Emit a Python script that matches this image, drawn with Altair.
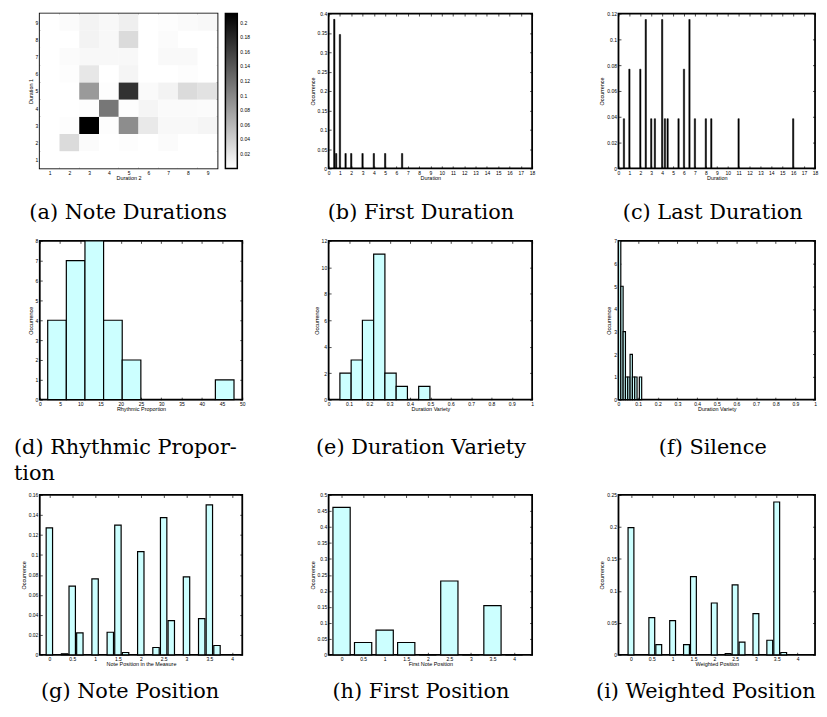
import altair as alt
import pandas as pd

# ---------------- data ----------------
# (a) Note Durations: row i -> Duration 1 = i+1 ; columns -> Duration 2 = 1..9
heat_rows = [
    [0, 0, 0, 0, 0, 0, 0, 0, 0],
    [0, 0.03, 0.003, 0, 0.002, 0, 0.003, 0, 0],
    [0, 0.002, 0.2126, 0.002, 0.095, 0.018, 0.006, 0.006, 0.008],
    [0, 0, 0.002, 0.113, 0.002, 0.008, 0.004, 0.004, 0.003],
    [0, 0, 0.084, 0.002, 0.172, 0.004, 0.01, 0.03, 0.024],
    [0, 0.002, 0.02, 0, 0.008, 0, 0, 0.002, 0],
    [0, 0.003, 0.006, 0.006, 0.006, 0, 0.005, 0.005, 0],
    [0, 0, 0.01, 0.006, 0.03, 0, 0.003, 0, 0],
    [0, 0.003, 0.01, 0.006, 0.013, 0, 0.002, 0.004, 0.006],
]
heat_max = 0.2126
colorbar_ticks = [0.02, 0.04, 0.06, 0.08, 0.1, 0.12, 0.14, 0.16, 0.18, 0.2]
grid_ticks = [1, 2, 3, 4, 5, 6, 7, 8, 9]

# (b) First Duration
first_dur = [0.5, 0.667, 1.0, 1.5, 2.0, 3.0, 4.0, 5.0, 6.5]
first_dur_occ = [0.385, 0.0385, 0.346, 0.0385, 0.0385, 0.0385, 0.0385, 0.0385, 0.0385]
# (c) Last Duration
last_dur = [0.5, 1, 2, 2.5, 3, 3.333, 4, 4.25, 4.5, 5.5, 6, 6.5, 7, 8, 8.5, 11, 16]
last_dur_occ = [0.0385, 0.0769, 0.0769, 0.1154, 0.0385, 0.0385, 0.1154, 0.0385, 0.0385,
                0.0385, 0.0769, 0.1154, 0.0385, 0.0385, 0.0385, 0.0385, 0.0385]
dur_ticks = list(range(0, 19))
occ_ticks_b = [0, 0.05, 0.1, 0.15, 0.2, 0.25, 0.3, 0.35, 0.4]
occ_ticks_c = [0, 0.02, 0.04, 0.06, 0.08, 0.1, 0.12]

# (d) Rhythmic Proportion histogram
rhythm_edges = [1.96, 6.56, 11.16, 15.76, 20.36, 24.96, 29.56, 34.16, 38.76, 43.36, 47.96]
rhythm_counts = [4, 7, 8, 4, 2, 0, 0, 0, 0, 1]
rhythm_xticks = [0, 5, 10, 15, 20, 25, 30, 35, 40, 45, 50]
rhythm_yticks = [0, 1, 2, 3, 4, 5, 6, 7, 8]

# (e) Duration Variety histogram
variety_edges = [0.0554, 0.1107, 0.166, 0.2213, 0.2766, 0.3319, 0.3872, 0.4425, 0.4978]
variety_counts = [2, 3, 6, 11, 2, 1, 0, 1]
unit_ticks = [0, 0.1, 0.2, 0.3, 0.4, 0.5, 0.6, 0.7, 0.8, 0.9, 1]
variety_yticks = [0, 2, 4, 6, 8, 10, 12]

# (f) Silence histogram
silence_edges = [0, 0.0118, 0.0236, 0.0354, 0.0472, 0.059, 0.0708, 0.0826, 0.0944, 0.1062, 0.118]
silence_counts = [7, 5, 3, 1, 1, 2, 1, 1, 0, 1]
silence_yticks = [0, 1, 2, 3, 4, 5, 6, 7]

# (g) Note Position
note_pos = [0, 0.333, 0.5, 0.667, 1, 1.333, 1.5, 1.667, 2, 2.333, 2.5, 2.667, 3, 3.333, 3.5, 3.667]
note_occ = [0.127, 0.001, 0.0687, 0.0219, 0.076, 0.0226, 0.1298, 0.0023, 0.1032, 0.0073,
            0.1374, 0.0342, 0.078, 0.0362, 0.150, 0.0093]
note_yticks = [0, 0.02, 0.04, 0.06, 0.08, 0.1, 0.12, 0.14, 0.16]
# (h) First Position
first_pos = [0, 0.5, 1, 1.5, 2, 2.5, 3, 3.5, 4]
first_pos_occ = [0.4615, 0.0385, 0.0769, 0.0385, 0, 0.2308, 0, 0.1538, 0]
first_pos_yticks = [0, 0.05, 0.1, 0.15, 0.2, 0.25, 0.3, 0.35, 0.4, 0.45, 0.5]
# (i) Weighted Position
weighted_pos = [0, 0.5, 0.667, 1, 1.333, 1.5, 2, 2.333, 2.5, 2.667, 3, 3.333, 3.5, 3.667]
weighted_occ = [0.199, 0.058, 0.016, 0.0534, 0.016, 0.1224, 0.081, 0.002, 0.1094, 0.0197,
                0.0643, 0.0228, 0.239, 0.0036]
weighted_yticks = [0, 0.05, 0.1, 0.15, 0.2, 0.25]
pos_ticks = [0, 0.5, 1, 1.5, 2, 2.5, 3, 3.5, 4]

captions = ["(a) Note Durations", "(b) First Duration", "(c) Last Duration",
            "(d) Rhythmic Propor-\ntion", "(e) Duration Variety", "(f) Silence",
            "(g) Note Position", "(h) First Position", "(i) Weighted Position"]

# ---------------- styling ----------------
CYAN = "#ccffff"
SANS = "Liberation Sans"
LABEL_EXPR = "format(datum.value, '.2~f')"


def main_axis_x(vals, title):
    return alt.Axis(orient="bottom", values=vals, title=title, ticks=False, tickSize=0,
                    domain=False, grid=False, labelPadding=2, titlePadding=0,
                    labelExpr=LABEL_EXPR, labelFlush=False, labelOverlap=False, minExtent=0)


def main_axis_y(vals, title):
    return alt.Axis(orient="left", values=vals, title=title, ticks=False, tickSize=0,
                    domain=False, grid=False, labelPadding=2, titlePadding=2,
                    labelExpr=LABEL_EXPR, labelOverlap=False, minExtent=0)


def panel(base, xf, yf, xdom, ydom, xvals, yvals, xtitle, ytitle, w, h, tick_df):
    sx = alt.Scale(domain=xdom, nice=False, zero=False)
    sy = alt.Scale(domain=ydom, nice=False, zero=False)
    main = base.encode(
        x=alt.X(f"{xf}:Q", scale=sx, axis=main_axis_x(xvals, xtitle)),
        y=alt.Y(f"{yf}:Q", scale=sy, axis=main_axis_y(yvals, ytitle)),
    )
    inner = dict(labels=False, domain=False, grid=False, title=None, tickSize=2.5, minExtent=0)
    t1 = alt.Chart(tick_df).mark_point(opacity=0).encode(
        x=alt.X(f"{xf}:Q", scale=sx, axis=alt.Axis(orient="top", offset=-h, values=xvals, **inner)),
        y=alt.Y(f"{yf}:Q", scale=sy, axis=alt.Axis(orient="right", offset=-w, values=yvals, **inner)),
    )
    t2 = alt.Chart(tick_df).mark_point(opacity=0).encode(
        x=alt.X(f"{xf}:Q", scale=sx, axis=alt.Axis(orient="bottom", offset=-h, values=xvals, **inner)),
        y=alt.Y(f"{yf}:Q", scale=sy, axis=alt.Axis(orient="left", offset=-w, values=yvals, **inner)),
    )
    return alt.layer(main, t1, t2).resolve_axis(x="independent", y="independent").properties(
        width=w, height=h)


def hist_df(edges, counts):
    return pd.DataFrame({"x0": edges[:-1], "x1": edges[1:], "y1": counts, "y0": [0] * len(counts)})


def bars_df(pos, occ, bw):
    return pd.DataFrame({"x0": [p - bw / 2 for p in pos], "x1": [p + bw / 2 for p in pos],
                         "y1": occ, "y0": [0] * len(pos)})


def cyan_rects(df):
    return alt.Chart(df).mark_rect(fill=CYAN, stroke="black", strokeWidth=1.2).encode(
        x2="x1:Q", y2="y0:Q")


def black_rects(df):
    return alt.Chart(df).mark_rect(fill="black", stroke="black", strokeWidth=0.5).encode(
        x2="x1:Q", y2="y0:Q")


def caption(text, cx, by, w, h, align="center"):
    return alt.Chart(pd.DataFrame({"t": [text]})).mark_text(
        font="DejaVu Serif", fontSize=21, align=align, baseline="alphabetic",
        lineBreak="\n", lineHeight=26, color="black"
    ).encode(x=alt.value(cx), y=alt.value(by), text="t:N").properties(
        width=w, height=h, view=alt.ViewBackground(stroke="transparent"))


# sizes
W1, W2, W3 = 204, 205, 198
WA = 179
H1, H2, H3 = 156, 160, 161
C1, C2, C3 = 73, 96, 40
GAP = 87

# (a) heatmap
heat_records = []
for i, row in enumerate(heat_rows):
    for j, v in enumerate(row):
        heat_records.append({"x0": j + 0.5, "x1": j + 1.5, "y0": i + 0.5, "y1": i + 1.5, "v": v})
heat_df = pd.DataFrame(heat_records)
gray = alt.Scale(domain=[0, heat_max], range=["white", "black"], interpolate="rgb")
heat_base = alt.Chart(heat_df).mark_rect().encode(
    x2="x1:Q", y2="y1:Q",
    color=alt.Color("v:Q", scale=gray, legend=alt.Legend(
        type="gradient", title=None, orient="right", offset=7, gradientLength=H1,
        gradientThickness=12, gradientStrokeColor="black", gradientStrokeWidth=1.5,
        values=colorbar_ticks, labelFontSize=5, labelFont=SANS, labelOverlap=False, padding=0,
        direction="vertical", labelOffset=3, labelExpr=LABEL_EXPR, labelColor="black")),
)
pa = panel(heat_base, "x0", "y0", [0.5, 9.5], [0.5, 9.5], grid_ticks, grid_ticks,
           "Duration 2", "Duration 1", WA, H1, heat_df)

df_b = bars_df(first_dur, first_dur_occ, 0.12)
pb = panel(black_rects(df_b), "x0", "y1", [0, 18], [0, 0.4], dur_ticks, occ_ticks_b,
           "Duration", "Occurrence", W2, H1, df_b)
df_c = bars_df(last_dur, last_dur_occ, 0.12)
pc = panel(black_rects(df_c), "x0", "y1", [0, 18], [0, 0.12], dur_ticks, occ_ticks_c,
           "Duration", "Occurrence", W3, H1, df_c)

df_d = hist_df(rhythm_edges, rhythm_counts)
pd_ = panel(cyan_rects(df_d), "x0", "y1", [0, 50], [0, 8], rhythm_xticks, rhythm_yticks,
            "Rhythmic Proportion", "Occurrence", W1, H2, df_d)
df_e = hist_df(variety_edges, variety_counts)
pe = panel(cyan_rects(df_e), "x0", "y1", [0, 1], [0, 12], unit_ticks, variety_yticks,
           "Duration Variety", "Occurrence", W2, H2, df_e)
df_f = hist_df(silence_edges, silence_counts)
pf = panel(cyan_rects(df_f), "x0", "y1", [0, 1], [0, 7], unit_ticks, silence_yticks,
           "Duration Variety", "Occurrence", W3, H2, df_f)

df_g = bars_df(note_pos, note_occ, 0.14)
pg = panel(cyan_rects(df_g), "x0", "y1", [-0.21, 4.22], [0, 0.16], pos_ticks, note_yticks,
           "Note Position in the Measure", "Occurrence", W1, H3, df_g)
df_h = bars_df(first_pos, first_pos_occ, 0.4)
ph = panel(cyan_rects(df_h), "x0", "y1", [-0.3, 4.42], [0, 0.5], pos_ticks, first_pos_yticks,
           "First Note Position", "Occurrence", W2, H3, df_h)
df_i = bars_df(weighted_pos, weighted_occ, 0.14)
pi = panel(cyan_rects(df_i), "x0", "y1", [-0.3, 4.42], [0, 0.25], pos_ticks, weighted_yticks,
           "Weighted Position", "Occurrence", W3, H3, df_i)

cells = [
    pa, pb, pc,
    caption(captions[0], 89, 51, W1, C1), caption(captions[1], 93, 51, W2, C1),
    caption(captions[2], 95, 51, W3, C1),
    pd_, pe, pf,
    caption(captions[3], -26, 55, W1, C2, align="left"), caption(captions[4], 93, 55, W2, C2),
    caption(captions[5], 95, 55, W3, C2),
    pg, ph, pi,
    caption(captions[6], 91, 44, W1, C3), caption(captions[7], 93, 44, W2, C3),
    caption(captions[8], 88, 44, W3, C3),
]

chart = alt.concat(
    *cells, columns=3, spacing=alt.RowColnumber(row=0, column=GAP), bounds="flush", align="each"
).resolve_scale(color="independent").resolve_legend(color="independent").properties(
    padding={"left": 5, "top": 0, "right": 0, "bottom": 0}
).configure_view(
    stroke="black", strokeWidth=1.8
).configure_axis(
    labelFont=SANS, titleFont=SANS, labelFontSize=5, titleFontSize=5.5, labelColor="black",
    titleColor="black", titleFontWeight="normal", tickColor="black", tickWidth=0.7
)

chart.save("out.html", embed_options={"renderer": "svg", "actions": False})
